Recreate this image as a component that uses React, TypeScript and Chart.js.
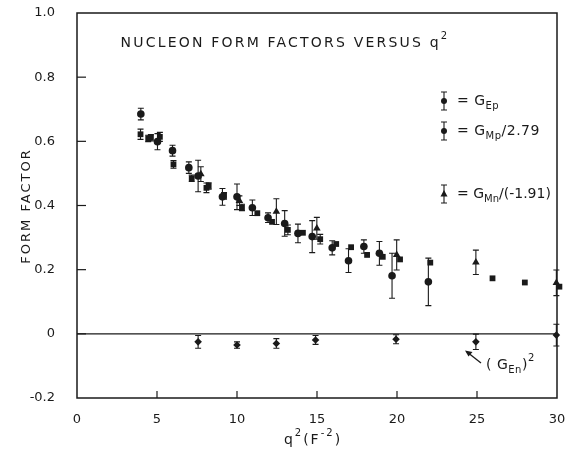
import React, { useEffect, useRef } from "react";
import { Chart, registerables } from "chart.js";
Chart.register(...registerables);

// G_Ep (circles)
const epQ2 = [3.99, 5.03, 5.97, 6.99, 7.57, 9.09, 10.0, 10.96, 11.94, 12.98, 13.81, 14.7, 15.95, 16.97, 17.93, 18.9, 19.69, 21.96];
const epVal = [0.685, 0.599, 0.571, 0.518, 0.492, 0.427, 0.427, 0.393, 0.362, 0.344, 0.313, 0.303, 0.268, 0.228, 0.272, 0.251, 0.181, 0.162];
const epErr = [0.018, 0.025, 0.017, 0.018, 0.049, 0.026, 0.04, 0.024, 0.015, 0.04, 0.029, 0.05, 0.022, 0.037, 0.021, 0.037, 0.07, 0.074];

// G_Mp / 2.79 (squares)
const mpQ2 = [3.97, 4.45, 4.62, 5.18, 6.03, 7.17, 8.09, 8.23, 9.19, 10.31, 11.27, 12.19, 13.18, 14.12, 15.2, 16.2, 17.13, 18.13, 19.11, 20.19, 22.08, 25.97, 27.99, 30.15];
const mpVal = [0.622, 0.609, 0.611, 0.614, 0.528, 0.485, 0.455, 0.461, 0.43, 0.394, 0.376, 0.349, 0.324, 0.315, 0.295, 0.28, 0.27, 0.246, 0.24, 0.232, 0.222, 0.173, 0.16, 0.147];
const mpErr = [0.016, 0.01, 0.01, 0.014, 0.012, 0.01, 0.015, 0.01, 0.01, 0.01, 0, 0, 0.015, 0, 0.015, 0, 0, 0, 0, 0, 0, 0, 0, 0];

// G_Mn / (-1.91) (triangles)
const mnQ2 = [7.74, 10.15, 12.46, 14.99, 19.98, 24.93, 29.96];
const mnVal = [0.498, 0.415, 0.381, 0.329, 0.246, 0.223, 0.159];
const mnErr = [0.023, 0.015, 0.04, 0.034, 0.047, 0.038, 0.04];

// (G_En)^2 (diamonds)
const enQ2 = [7.57, 10.0, 12.46, 14.91, 19.94, 24.93, 29.96];
const enVal = [-0.025, -0.035, -0.03, -0.019, -0.017, -0.025, -0.004];
const enErr = [0.02, 0.01, 0.015, 0.014, 0.014, 0.024, 0.034];

const xTicks = [0, 5, 10, 15, 20, 25, 30];
const yTicks = [-0.2, 0, 0.2, 0.4, 0.6, 0.8, 1.0];

const INK = "#1a1a1a";
const FONT = "'DejaVu Sans', sans-serif";

type Part = [string, "n" | "sub" | "sup"];

function drawRich(ctx: CanvasRenderingContext2D, x: number, y: number, parts: Part[], size: number, spacing = 0, align: "left" | "center" = "left") {
  const small = Math.round(size * 0.72);
  ctx.save();
  (ctx as any).letterSpacing = spacing + "px";
  ctx.textBaseline = "middle";
  ctx.textAlign = "left";
  let total = 0;
  for (const [t, k] of parts) {
    ctx.font = `${k === "n" ? size : small}px ${FONT}`;
    total += ctx.measureText(t).width;
  }
  let cx = align === "center" ? x - total / 2 : x;
  for (const [t, k] of parts) {
    ctx.font = `${k === "n" ? size : small}px ${FONT}`;
    const dy = k === "sub" ? size * 0.38 : k === "sup" ? -size * 0.45 : 0;
    ctx.fillText(t, cx, y + dy);
    cx += ctx.measureText(t).width;
  }
  ctx.restore();
}

function mk(q: number[], v: number[]) {
  return q.map((x, i) => ({ x, y: v[i] }));
}

const decor = {
  id: "decor",
  beforeDatasetsDraw(chart: any) {
    const ctx: CanvasRenderingContext2D = chart.ctx;
    const { left, right, top, bottom } = chart.chartArea;
    const xs = chart.scales.x;
    const ys = chart.scales.y;
    ctx.save();
    ctx.strokeStyle = INK;
    ctx.lineWidth = 1.5;
    ctx.strokeRect(left, top, right - left, bottom - top);
    // zero line
    ctx.lineWidth = 1.2;
    ctx.beginPath();
    const y0 = ys.getPixelForValue(0);
    ctx.moveTo(left, y0);
    ctx.lineTo(right, y0);
    ctx.stroke();
    // inward ticks
    ctx.lineWidth = 1.2;
    for (const t of xTicks.slice(1, -1)) {
      const px = xs.getPixelForValue(t);
      ctx.beginPath();
      ctx.moveTo(px, bottom);
      ctx.lineTo(px, bottom - 7);
      ctx.stroke();
    }
    for (const t of yTicks.slice(1, -1)) {
      const py = ys.getPixelForValue(t);
      ctx.beginPath();
      ctx.moveTo(left, py);
      ctx.lineTo(left + 9, py);
      ctx.stroke();
    }
    // error bars
    ctx.lineWidth = 1.1;
    chart.data.datasets.forEach((ds: any) => {
      const errs: number[] = ds.errors || [];
      ds.data.forEach((p: any, i: number) => {
        const e = errs[i];
        if (!e) return;
        const px = xs.getPixelForValue(p.x);
        const pt = ys.getPixelForValue(p.y + e);
        const pb = ys.getPixelForValue(p.y - e);
        ctx.beginPath();
        ctx.moveTo(px, pt);
        ctx.lineTo(px, pb);
        ctx.moveTo(px - 3, pt);
        ctx.lineTo(px + 3, pt);
        ctx.moveTo(px - 3, pb);
        ctx.lineTo(px + 3, pb);
        ctx.stroke();
      });
    });
    ctx.restore();
  },
  afterDraw(chart: any) {
    const ctx: CanvasRenderingContext2D = chart.ctx;
    ctx.save();
    ctx.fillStyle = INK;
    ctx.strokeStyle = INK;
    // title
    drawRich(ctx, 285, 43, [["NUCLEON FORM FACTORS VERSUS q", "n"], ["2", "sup"]], 14, 2.2, "center");
    // axis titles
    drawRich(ctx, 313, 440, [["q", "n"], ["2", "sup"], ["(F", "n"], ["-2", "sup"], [")", "n"]], 14, 2, "center");
    ctx.save();
    ctx.translate(27, 206);
    ctx.rotate(-Math.PI / 2);
    drawRich(ctx, 0, 0, [["FORM FACTOR", "n"]], 13, 2, "center");
    ctx.restore();
    // legend symbols
    const sym = (x: number, y: number, kind: string) => {
      ctx.lineWidth = 1.1;
      ctx.beginPath();
      ctx.moveTo(x, y - 9);
      ctx.lineTo(x, y + 9);
      ctx.moveTo(x - 3, y - 9);
      ctx.lineTo(x + 3, y - 9);
      ctx.moveTo(x - 3, y + 9);
      ctx.lineTo(x + 3, y + 9);
      ctx.stroke();
      ctx.beginPath();
      if (kind === "tri") {
        ctx.moveTo(x, y - 4);
        ctx.lineTo(x + 3.5, y + 2.5);
        ctx.lineTo(x - 3.5, y + 2.5);
        ctx.closePath();
      } else {
        ctx.arc(x, y, 3, 0, Math.PI * 2);
      }
      ctx.fill();
    };
    sym(444, 101, "circ");
    sym(444, 131, "circ");
    sym(444, 194, "tri");
    drawRich(ctx, 457, 101, [["= G", "n"], ["Ep", "sub"]], 14, 0.5);
    drawRich(ctx, 457, 131, [["= G", "n"], ["Mp", "sub"], ["/2.79", "n"]], 14, 0.5);
    drawRich(ctx, 457, 194, [["= G", "n"], ["Mn", "sub"], ["/(-1.91)", "n"]], 14, 0);
    // (G_En)^2 annotation with arrow
    ctx.lineWidth = 1.3;
    ctx.beginPath();
    ctx.moveTo(481, 363);
    ctx.lineTo(467, 352);
    ctx.stroke();
    ctx.beginPath();
    ctx.moveTo(465, 350.5);
    ctx.lineTo(472.5, 352);
    ctx.lineTo(468.5, 356.5);
    ctx.closePath();
    ctx.fill();
    drawRich(ctx, 486, 365, [["( G", "n"], ["En", "sub"], [")", "n"], ["2", "sup"]], 14, 0.5);
    ctx.restore();
  },
};

export default function App() {
  const ref = useRef<HTMLCanvasElement | null>(null);
  useEffect(() => {
    document.body.style.margin = "0";
    const canvas = ref.current;
    if (!canvas) return;
    const common = {
      showLine: false,
      backgroundColor: INK,
      borderColor: INK,
      borderWidth: 0,
      clip: false,
    };
    const chart = new Chart(canvas, {
      type: "scatter",
      data: {
        datasets: [
          { ...common, label: "G_Ep", data: mk(epQ2, epVal), errors: epErr, pointStyle: "circle", pointRadius: 3.8 } as any,
          { ...common, label: "G_Mp/2.79", data: mk(mpQ2, mpVal), errors: mpErr, pointStyle: "rect", pointRadius: 4.1 } as any,
          { ...common, label: "G_Mn/(-1.91)", data: mk(mnQ2, mnVal), errors: mnErr, pointStyle: "triangle", pointRadius: 4.4 } as any,
          { ...common, label: "(G_En)^2", data: mk(enQ2, enVal), errors: enErr, pointStyle: "rectRot", pointRadius: 3.8 } as any,
        ],
      },
      options: {
        animation: false,
        responsive: false,
        maintainAspectRatio: false,
        layout: { padding: { top: 13, right: 12, left: 0, bottom: 0 } },
        plugins: { legend: { display: false }, tooltip: { enabled: false }, title: { display: false } },
        scales: {
          x: {
            type: "linear",
            min: 0,
            max: 30,
            afterBuildTicks: (s: any) => {
              s.ticks = xTicks.map((v) => ({ value: v }));
            },
            afterFit: (s: any) => {
              s.height = 57;
              s.paddingLeft = 0;
              s.paddingRight = 0;
            },
            ticks: {
              color: INK,
              font: { family: FONT, size: 13 },
              padding: 6,
              maxRotation: 0,
              autoSkip: false,
              callback: (v: any) => String(v),
            },
            grid: { display: false },
            border: { display: false },
          },
          y: {
            type: "linear",
            min: -0.2,
            max: 1.0,
            afterBuildTicks: (s: any) => {
              s.ticks = yTicks.map((v) => ({ value: v }));
            },
            afterFit: (s: any) => {
              s.width = 77;
              s.paddingTop = 0;
              s.paddingBottom = 0;
            },
            ticks: {
              color: INK,
              font: { family: FONT, size: 13 },
              padding: 14,
              autoSkip: false,
              callback: (v: any) => (Math.abs(v) < 1e-9 ? "0" : Number(v).toFixed(1)),
            },
            grid: { display: false },
            border: { display: false },
          },
        },
      } as any,
      plugins: [decor],
    });
    return () => chart.destroy();
  }, []);
  return (
    <div style={{ position: "absolute", left: 0, top: 0, width: 569, height: 455, background: "#fff" }}>
      <canvas ref={ref} width={569} height={455} style={{ width: 569, height: 455, display: "block" }} />
    </div>
  );
}
